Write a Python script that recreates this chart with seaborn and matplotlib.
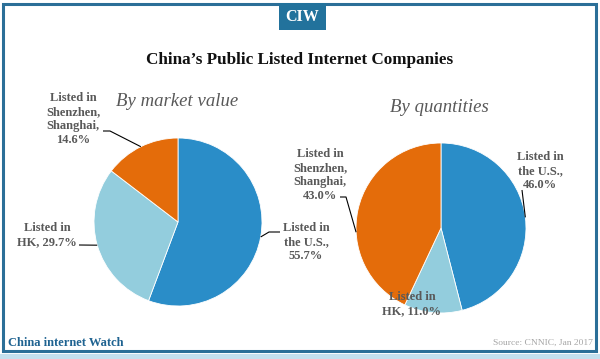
import numpy as np
import matplotlib
matplotlib.use("Agg")
import matplotlib.pyplot as plt
import seaborn as sns
from matplotlib.patches import Rectangle

# data
categories = ["Listed in the U.S.", "Listed in HK", "Listed in Shenzhen, Shanghai"]
market_value = [55.7, 29.7, 14.6]
quantities = [46.0, 11.0, 43.0]

sns.set_style("white")
plt.rcParams["font.family"] = ["Liberation Serif", "DejaVu Serif"]
palette = sns.color_palette(["#2a8dc8", "#93cddd", "#e46c0a"])

W, H = 600, 359
fig = plt.figure(figsize=(W / 100, H / 100), dpi=100)
ax = fig.add_axes([0, 0, 1, 1])


def Y(y):
    """pixel row (from top) -> data y."""
    return H - y


GRAY = "#595959"
LABEL = dict(fontsize=9, fontweight="bold", color=GRAY, ha="center", va="center",
             linespacing=1.2)


def draw_pie(values, cx, cy, r):
    wedges, _ = ax.pie(values, colors=palette, startangle=90, counterclock=False,
                       center=(cx, Y(cy)), radius=r, frame=True,
                       wedgeprops=dict(edgecolor="white", linewidth=0.6))
    return wedges


def edge_point(w, frac=0.5):
    ang = np.deg2rad(w.theta1 + frac * (w.theta2 - w.theta1))
    return w.center[0] + w.r * np.cos(ang), w.center[1] + w.r * np.sin(ang)


def leader(pts, w, frac=0.5):
    ex, ey = edge_point(w, frac)
    xs = [p[0] for p in pts] + [ex]
    ys = [Y(p[1]) for p in pts] + [ey]
    ax.plot(xs, ys, color="black", lw=0.8, solid_capstyle="butt")


def pct_label(name, v):
    if name == "Listed in the U.S.":
        return f"Listed in\nthe U.S.,\n{v:.1f}%"
    if name == "Listed in HK":
        return f"Listed in\nHK, {v:.1f}%"
    return f"Listed in\nShenzhen,\nShanghai,\n{v:.1f}%"


# left pie: by market value
lw = draw_pie(market_value, 178, 222, 84)
ax.text(177, Y(102), "By market value", fontsize=13.5, style="italic", color=GRAY,
        ha="center", va="center")
ax.text(73, Y(119), pct_label(categories[2], market_value[2]), **LABEL)
leader([(103, 131), (110, 131)], lw[2])
ax.text(47, Y(235), pct_label(categories[1], market_value[1]), **LABEL)
leader([(79, 245)], lw[1])
ax.text(306, Y(242), pct_label(categories[0], market_value[0]), **LABEL)
leader([(280, 232), (269, 232)], lw[0])

# right pie: by quantities
rw = draw_pie(quantities, 441, 228, 85)
ax.text(439, Y(107), "By quantities", fontsize=13.5, style="italic", color=GRAY,
        ha="center", va="center")
ax.text(320, Y(175), pct_label(categories[2], quantities[2]), **LABEL)
leader([(340, 197), (346, 197)], rw[2], frac=0.6)
ax.text(540, Y(171), pct_label(categories[0], quantities[0]), **LABEL)
leader([(522, 190)], rw[0])
ax.text(412, Y(304), pct_label(categories[1], quantities[1]), **LABEL)

# frame, badge, title, footer
ax.add_patch(Rectangle((3, Y(351)), 593, 347, fill=False, edgecolor="#2b6f98", lw=2.2))
ax.add_patch(Rectangle((0, 0), W, Y(354), facecolor="#c4e0ee", edgecolor="none"))
ax.add_patch(Rectangle((279, Y(30)), 47, 27, facecolor="#22729c", edgecolor="none"))
ax.text(302.5, Y(17), "CIW", color="white", fontsize=11.5, fontweight="bold",
        ha="center", va="center")
ax.text(300, Y(60), "China\u2019s Public Listed Internet Companies", fontsize=12.3,
        fontweight="bold", color="#111111", ha="center", va="center")
ax.text(8, Y(343), "China internet Watch", fontsize=9, fontweight="bold",
        color="#1f6391", ha="left", va="center")
ax.text(593, Y(343), "Source: CNNIC, Jan 2017", fontsize=6.8, color="#a6a6a6",
        ha="right", va="center")

ax.set_xlim(0, W)
ax.set_ylim(0, H)
ax.set_aspect("auto")
ax.axis("off")

fig.savefig("out.png", dpi=100)
